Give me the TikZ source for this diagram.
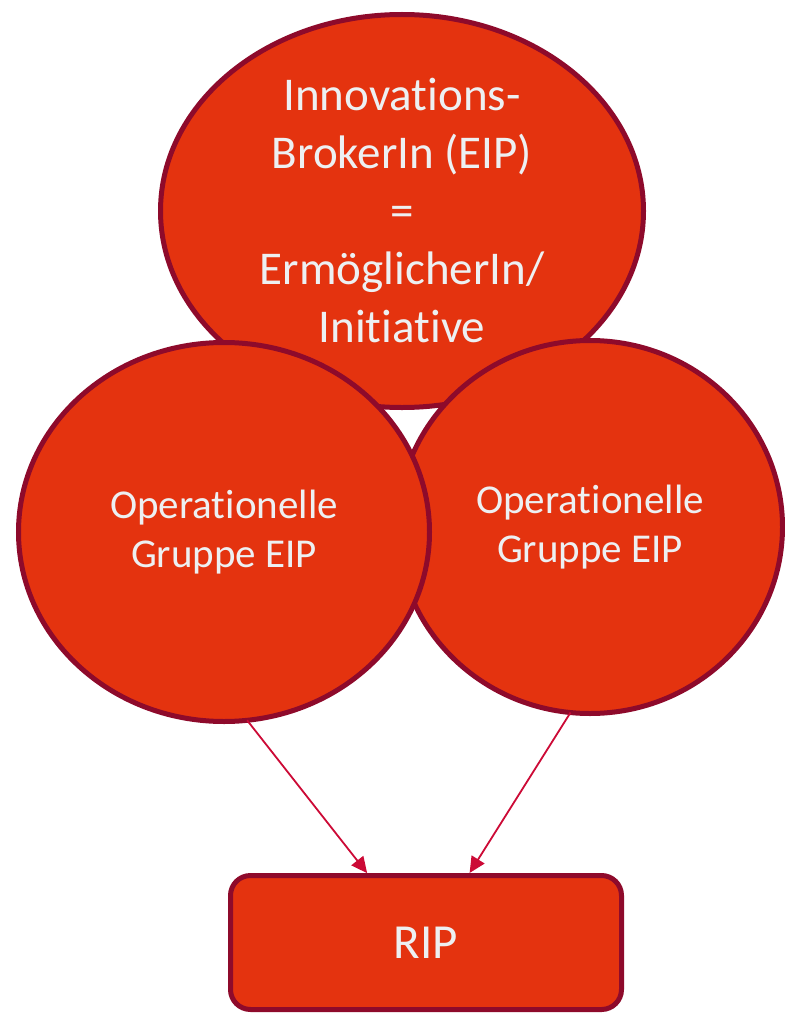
\documentclass[tikz,border=0pt]{standalone}
\usepackage{fontspec}
\setmainfont{Carlito}[Ligatures=NoCommon]
\usetikzlibrary{shapes.geometric,arrows.meta}
\definecolor{blobfill}{HTML}{E4330F}
\definecolor{blobedge}{HTML}{8E0A2B}
\definecolor{blobtext}{HTML}{EDF0F2}
\definecolor{flowline}{HTML}{CC0A36}
\tikzset{
  blob/.style={ellipse, fill=blobfill, draw=blobedge, line width=5pt,
    text=blobtext, align=center, inner sep=0pt, outer sep=0pt},
  ripbox/.style={rectangle, rounded corners=20pt, fill=blobfill, draw=blobedge,
    line width=5pt, text=blobtext, align=center, inner sep=0pt, outer sep=0pt},
  flow/.style={draw=flowline, line width=1.8pt,
    -{Triangle[length=16pt,width=15pt]}},
}
\begin{document}
\begin{tikzpicture}[x=1pt,y=-1pt]
  \useasboundingbox (0,0) rectangle (784,1014);
  % enabler on top
  \node[blob, minimum width=483pt, minimum height=393pt,
        font=\fontsize{47}{58}\selectfont] (broker) at (402,211)
    {Innovations-\\BrokerIn (EIP)\\=\\ErmöglicherIn/\\Initiative};
  % the two operational groups (left one drawn last, it lies in front)
  \node[blob, minimum width=385pt, minimum height=373pt,
        font=\fontsize{41}{49}\selectfont] (opright) at (590,527)
    {Operationelle\\Gruppe EIP};
  \node[blob, minimum width=411pt, minimum height=379pt,
        font=\fontsize{41}{49}\selectfont] (opleft) at (224,532)
    {Operationelle\\Gruppe EIP};
  % regional partnership box
  \node[ripbox, minimum width=391pt, minimum height=134pt,
        font=\fontsize{49}{58}\selectfont] (rip) at (426,942.5) {RIP};
  % flows into RIP
  \draw[flow, shorten >=3pt] (opleft.277) -- ([xshift=-57pt]rip.north);
  \draw[flow, shorten >=3pt] (opright.264) -- ([xshift=42pt]rip.north);
\end{tikzpicture}
\end{document}
